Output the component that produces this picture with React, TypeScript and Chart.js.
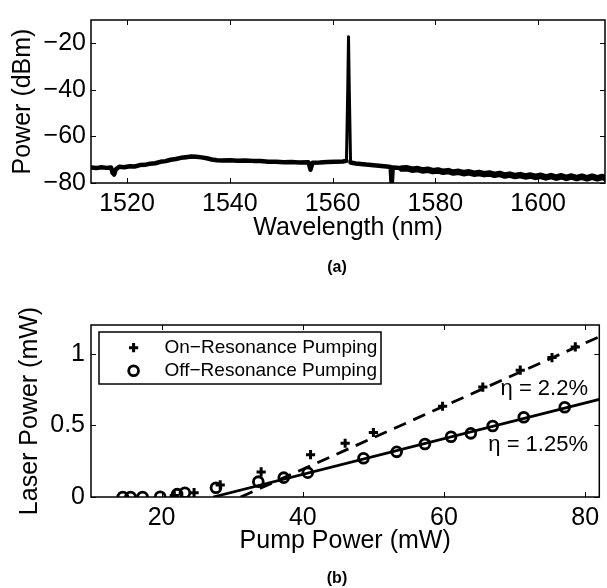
import React, { useEffect, useRef } from 'react';
import { Chart, registerables } from 'chart.js';

Chart.register(...registerables);

const FONT = "'Liberation Sans', Arial, Helvetica, sans-serif";

// ---------- (a) optical spectrum ----------
const wavelengthNm = [
  1513.0, 1514.0, 1515.0, 1516.0, 1516.9, 1517.2, 1517.5, 1517.8, 1518.5, 1519.5,
  1520.5, 1521.5, 1522.5, 1523.5, 1524.5, 1525.5, 1526.5, 1527.5, 1528.5, 1529.5,
  1530.5, 1531.5, 1532.5, 1533.5, 1534.5, 1535.5, 1536.5, 1537.5, 1538.5, 1540.0,
  1541.5, 1543.0, 1544.5, 1546.0, 1547.5, 1549.0, 1550.5, 1552.0, 1553.5, 1555.3,
  1555.7, 1556.1, 1557.5, 1559.0, 1560.5, 1562.0, 1562.7, 1562.95, 1563.1, 1563.25,
  1563.5, 1564.5, 1565.5, 1566.5, 1567.5, 1568.5, 1569.5, 1570.5, 1571.3, 1571.5,
  1571.7, 1572.5, 1573.5, 1574.5, 1575.5, 1576.5, 1577.5, 1578.5, 1579.5, 1580.5,
  1581.5, 1582.5, 1583.5, 1584.5, 1585.5, 1586.5, 1587.5, 1588.5, 1589.5, 1590.5,
  1591.5, 1592.5, 1593.5, 1594.5, 1595.5, 1596.5, 1597.5, 1598.5, 1599.5, 1600.5,
  1601.5, 1602.5, 1603.5, 1604.5, 1605.5, 1606.5, 1607.5, 1608.5, 1609.5, 1610.5,
  1611.5, 1612.5, 1613.0,
];
const powerDbm = [
  -73.3, -73.6, -73.2, -73.5, -73.3, -75.6, -76.4, -74.2, -73.0, -73.2,
  -72.8, -72.9, -72.3, -72.2, -71.7, -71.5, -70.9, -70.6, -70.0, -69.7,
  -69.2, -68.9, -68.6, -68.7, -69.0, -69.4, -69.9, -70.2, -70.3, -70.2,
  -70.4, -70.3, -70.5, -70.6, -70.9, -70.9, -71.1, -71.0, -71.2, -71.1,
  -74.3, -71.3, -71.2, -71.0, -70.9, -70.8, -70.5, -40.0, -17.2, -40.0,
  -71.2, -71.6, -71.8, -72.1, -72.3, -72.5, -72.7, -72.9, -73.1, -81.0,
  -73.3, -73.4, -73.8, -73.7, -74.3, -74.0, -74.6, -74.3, -74.9, -74.6,
  -75.2, -74.9, -75.5, -75.2, -75.8, -75.4, -76.0, -75.7, -76.2, -75.9,
  -76.5, -76.1, -76.8, -76.4, -77.0, -76.6, -77.2, -76.8, -77.4, -76.9,
  -77.6, -77.0, -77.7, -77.1, -77.8, -77.2, -77.9, -77.3, -78.0, -77.3,
  -78.0, -77.4, -77.8,
];
const specXTicks = [1520, 1540, 1560, 1580, 1600];
const specYTicks = [-80, -60, -40, -20];

// ---------- (b) laser power vs pump power ----------
const onPump = [21.8, 24.6, 28.3, 34.1, 41.1, 46.0, 50.0, 59.8, 65.5, 70.8, 75.3, 78.6];
const onLaser = [0.01, 0.03, 0.084, 0.175, 0.295, 0.375, 0.45, 0.633, 0.767, 0.885, 0.973, 1.047];
const offPump = [14.5, 15.6, 17.3, 19.8, 22.2, 23.3, 27.7, 33.7, 37.3, 40.7, 48.6, 53.3, 57.3, 61.0, 63.8, 66.9, 71.3, 77.1];
const offLaser = [0, 0, 0, 0.002, 0.02, 0.03, 0.065, 0.107, 0.135, 0.17, 0.27, 0.315, 0.37, 0.42, 0.444, 0.495, 0.556, 0.626];
const onFitPump = [31.2, 82];
const onFitLaser = [0, 1.118];
const offFitPump = [27.3, 82];
const offFitLaser = [0, 0.681];
const pumpTicks = [20, 40, 60, 80];
const laserTicks = [0, 0.5, 1];
const legendLabels = ['On\u2212Resonance Pumping', 'Off\u2212Resonance Pumping'];
const etaLabels = ['\u03b7 = 2.2%', '\u03b7 = 1.25%'];
const etaAnchorsPump = [80.4, 80.4];
const etaAnchorsLaser = [0.755, 0.365];

const zip = (xs: number[], ys: number[]) => xs.map((x, i) => ({ x, y: ys[i] }));
const minus = (v: any) => String(v).replace('-', '\u2212');

function drawFrame(chart: any) {
  const { ctx, chartArea, scales } = chart;
  const { left, right, top, bottom } = chartArea;
  const tl = 5;
  ctx.save();
  ctx.strokeStyle = '#000';
  ctx.lineWidth = 1;
  ctx.beginPath();
  scales.x.ticks.forEach((t: any) => {
    const px = Math.round(scales.x.getPixelForValue(t.value)) + 0.5;
    ctx.moveTo(px, bottom);
    ctx.lineTo(px, bottom - tl);
    ctx.moveTo(px, top);
    ctx.lineTo(px, top + tl);
  });
  scales.y.ticks.forEach((t: any) => {
    const py = Math.round(scales.y.getPixelForValue(t.value)) + 0.5;
    ctx.moveTo(left, py);
    ctx.lineTo(left + tl, py);
    ctx.moveTo(right, py);
    ctx.lineTo(right - tl, py);
  });
  ctx.stroke();
  ctx.lineWidth = 1.5;
  ctx.strokeRect(left, top, right - left, bottom - top);
  ctx.restore();
}

const framePlugin = {
  id: 'frameBox',
  afterDatasetsDraw(chart: any) {
    drawFrame(chart);
  },
};

const annotPlugin = {
  id: 'annotB',
  afterDraw(chart: any) {
    const { ctx, chartArea, scales } = chart;
    ctx.save();
    const lx = chartArea.left + 8;
    const ly = chartArea.top + 7;
    const lw = 282;
    const lh = 52;
    ctx.fillStyle = '#fff';
    ctx.fillRect(lx, ly, lw, lh);
    ctx.strokeStyle = '#000';
    ctx.lineWidth = 1.5;
    ctx.strokeRect(lx, ly, lw, lh);
    const mx = lx + 34.6;
    const r1 = ly + 15.7;
    const r2 = ly + 38.7;
    ctx.lineWidth = 3;
    ctx.beginPath();
    ctx.moveTo(mx - 4.6, r1);
    ctx.lineTo(mx + 4.6, r1);
    ctx.moveTo(mx, r1 - 4.6);
    ctx.lineTo(mx, r1 + 4.6);
    ctx.stroke();
    ctx.lineWidth = 2.8;
    ctx.beginPath();
    ctx.arc(mx, r2, 4.9, 0, Math.PI * 2);
    ctx.stroke();
    ctx.fillStyle = '#000';
    ctx.font = `19px ${FONT}`;
    ctx.textBaseline = 'middle';
    ctx.textAlign = 'left';
    ctx.fillText(legendLabels[0], lx + 65.5, r1);
    ctx.fillText(legendLabels[1], lx + 65.5, r2);
    ctx.font = `22px ${FONT}`;
    ctx.textAlign = 'right';
    etaLabels.forEach((t, i) => {
      ctx.fillText(t, scales.x.getPixelForValue(etaAnchorsPump[i]), scales.y.getPixelForValue(etaAnchorsLaser[i]));
    });
    ctx.restore();
  },
};

const tickFont = { family: FONT, size: 25 };

function spectrumWidth(c: any) {
  const x0 = c.p0.parsed.x;
  if (x0 >= 1562.6 && x0 < 1563.5) return 3;
  if (x0 >= 1573) return 6.5;
  return 4.5;
}

function makeSpectrumConfig(): any {
  return {
    type: 'scatter',
    data: {
      datasets: [
        {
          data: zip(wavelengthNm, powerDbm),
          showLine: true,
          borderColor: '#000',
          backgroundColor: '#000',
          borderWidth: 4.5,
          pointRadius: 0,
          tension: 0,
          borderJoinStyle: 'round',
          borderCapStyle: 'round',
          segment: { borderWidth: spectrumWidth },
        },
      ],
    },
    options: {
      responsive: false,
      animation: false,
      devicePixelRatio: 1,
      layout: { padding: { top: 11, right: 2, left: 0, bottom: 0 } },
      plugins: { legend: { display: false }, tooltip: { enabled: false } },
      scales: {
        x: {
          type: 'linear',
          min: 1513,
          max: 1613,
          afterBuildTicks: (s: any) => {
            s.ticks = specXTicks.map((v) => ({ value: v }));
          },
          afterFit: (s: any) => {
            s.height = 117;
          },
          grid: { display: false, drawTicks: false },
          border: { display: false },
          ticks: { font: tickFont, color: '#000', padding: 6, autoSkip: false, maxRotation: 0, callback: (v: any) => String(v) },
          title: { display: true, text: 'Wavelength (nm)', font: tickFont, color: '#000', padding: { top: 0, bottom: 57 } },
        },
        y: {
          type: 'linear',
          min: -80,
          max: -10,
          afterBuildTicks: (s: any) => {
            s.ticks = specYTicks.map((v) => ({ value: v }));
          },
          afterFit: (s: any) => {
            s.width = 91;
          },
          grid: { display: false, drawTicks: false },
          border: { display: false },
          ticks: { font: tickFont, color: '#000', padding: 5, callback: (v: any) => minus(v) },
          title: { display: true, text: 'Power (dBm)', font: tickFont, color: '#000', padding: { top: 8, bottom: 0 } },
        },
      },
    },
    plugins: [framePlugin],
  };
}

function makePumpConfig(): any {
  return {
    type: 'scatter',
    data: {
      datasets: [
        {
          label: legendLabels[0],
          data: zip(onPump, onLaser),
          pointStyle: 'cross',
          pointRadius: 4.6,
          pointBorderWidth: 3,
          borderColor: '#000',
          backgroundColor: '#000',
          showLine: false,
          order: 0,
        },
        {
          label: legendLabels[1],
          data: zip(offPump, offLaser),
          pointStyle: 'circle',
          pointRadius: 4.9,
          pointBorderWidth: 2.8,
          borderColor: '#000',
          backgroundColor: 'rgba(0,0,0,0)',
          showLine: false,
          order: 0,
        },
        {
          data: zip(onFitPump, onFitLaser),
          showLine: true,
          borderColor: '#000',
          borderWidth: 2.8,
          borderDash: [13, 8],
          pointRadius: 0,
          order: 1,
        },
        {
          data: zip(offFitPump, offFitLaser),
          showLine: true,
          borderColor: '#000',
          borderWidth: 2.8,
          pointRadius: 0,
          order: 1,
        },
      ],
    },
    options: {
      responsive: false,
      animation: false,
      devicePixelRatio: 1,
      layout: { padding: { top: 25, right: 2, left: 0, bottom: 0 } },
      plugins: { legend: { display: false }, tooltip: { enabled: false } },
      scales: {
        x: {
          type: 'linear',
          min: 10,
          max: 82,
          afterBuildTicks: (s: any) => {
            s.ticks = pumpTicks.map((v) => ({ value: v }));
          },
          afterFit: (s: any) => {
            s.height = 91;
          },
          grid: { display: false, drawTicks: false },
          border: { display: false },
          ticks: { font: tickFont, color: '#000', padding: 6, autoSkip: false, maxRotation: 0, callback: (v: any) => String(v) },
          title: { display: true, text: 'Pump Power (mW)', font: tickFont, color: '#000', padding: { top: 0, bottom: 32 } },
        },
        y: {
          type: 'linear',
          min: 0,
          max: 1.2,
          afterBuildTicks: (s: any) => {
            s.ticks = laserTicks.map((v) => ({ value: v }));
          },
          afterFit: (s: any) => {
            s.width = 91;
          },
          grid: { display: false, drawTicks: false },
          border: { display: false },
          ticks: { font: tickFont, color: '#000', padding: 6, callback: (v: any) => String(v) },
          title: { display: true, text: 'Laser Power (mW)', font: tickFont, color: '#000', padding: { top: 15, bottom: 0 } },
        },
      },
    },
    plugins: [framePlugin, annotPlugin],
  };
}

export default function App() {
  const refA = useRef<HTMLCanvasElement>(null);
  const refB = useRef<HTMLCanvasElement>(null);

  useEffect(() => {
    Chart.defaults.font.family = FONT;
    Chart.defaults.color = '#000';
    const a = new Chart(refA.current as HTMLCanvasElement, makeSpectrumConfig());
    const b = new Chart(refB.current as HTMLCanvasElement, makePumpConfig());
    return () => {
      a.destroy();
      b.destroy();
    };
  }, []);

  const caption: React.CSSProperties = {
    position: 'absolute',
    left: 337,
    transform: 'translateX(-50%)',
    fontFamily: FONT,
    fontWeight: 'bold',
    fontSize: 16,
    lineHeight: '16px',
    color: '#000',
    whiteSpace: 'nowrap',
  };

  return (
    <div style={{ position: 'fixed', left: 0, top: 0, width: 607, height: 588, background: '#fff' }}>
      <canvas ref={refA} width={607} height={300} style={{ position: 'absolute', left: 0, top: 0, width: 607, height: 300 }} />
      <canvas ref={refB} width={607} height={288} style={{ position: 'absolute', left: 0, top: 300, width: 607, height: 288 }} />
      <div style={{ ...caption, top: 259 }}>(a)</div>
      <div style={{ ...caption, top: 570 }}>(b)</div>
    </div>
  );
}
